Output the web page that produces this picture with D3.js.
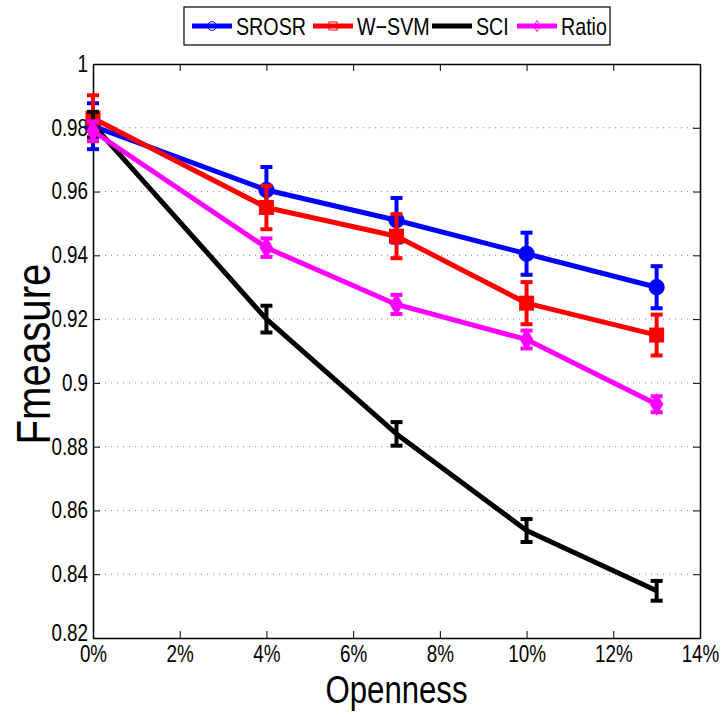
<!DOCTYPE html>
<html>
<head>
<meta charset="utf-8">
<script src="https://cdn.jsdelivr.net/npm/d3@7"></script>
<style>
  body { margin: 0; background: #fff; }
  text { font-family: "Liberation Sans", Arial, sans-serif; }
</style>
</head>
<body>
<div id="vis"></div>
<script>
//data
var openness = [0, 4, 7, 10, 13];
var srosr     = [0.9805, 0.9605, 0.951, 0.9405, 0.930];
var srosrErr  = [0.0072, 0.0072, 0.007, 0.0066, 0.0066];
var wsvm      = [0.983, 0.955, 0.946, 0.925, 0.915];
var wsvmErr   = [0.0072, 0.0068, 0.0069, 0.0066, 0.0064];
var sci       = [0.981, 0.920, 0.884, 0.8537, 0.8348];
var sciErr    = [0.004, 0.0042, 0.0037, 0.0036, 0.0031];
var ratio     = [0.979, 0.9424, 0.9246, 0.9136, 0.8933];
var ratioErr  = [0.003, 0.0029, 0.003, 0.0028, 0.0025];
var xTicks = [0, 2, 4, 6, 8, 10, 12, 14];
var yTicks = [0.82, 0.84, 0.86, 0.88, 0.9, 0.92, 0.94, 0.96, 0.98, 1];

var series = [
  {name: "SROSR", vals: srosr, err: srosrErr, color: "#0000ff", marker: "circle"},
  {name: "W\u2212SVM", vals: wsvm, err: wsvmErr, color: "#ff0000", marker: "square"},
  {name: "SCI", vals: sci, err: sciErr, color: "#000000", marker: "none"},
  {name: "Ratio", vals: ratio, err: ratioErr, color: "#ff00ff", marker: "diamond"}
];

//text in the original is horizontally squeezed
var sx = 0.82;

//set margins, width, and height
var margin = {top: 64, right: 22, bottom: 79, left: 93},
  width = 722 - margin.left - margin.right,
  height = 717 - margin.top - margin.bottom;

var x = d3.scaleLinear().domain([0, 14]).range([0, width]);
var y = d3.scaleLinear().domain([0.82, 1]).range([height, 0]);

var svg = d3.select("#vis").append("svg")
  .attr("width", 722)
  .attr("height", 717);

var g = svg.append("g")
  .attr("transform", "translate(" + margin.left + "," + margin.top + ")");

//grid lines (horizontal, dotted)
g.selectAll(".grid")
  .data(yTicks.slice(1, -1))
  .enter().append("line")
    .attr("x1", 0).attr("x2", width)
    .attr("y1", function(d) { return y(d); })
    .attr("y2", function(d) { return y(d); })
    .attr("stroke", "#888")
    .attr("stroke-width", 1)
    .attr("stroke-dasharray", "1,5");

//axes
var fmtPct = function(d) { return d + "%"; };
var xAxis = g.append("g")
  .attr("transform", "translate(0," + height + ")")
  .call(d3.axisBottom(x).tickValues(xTicks).tickFormat(fmtPct).tickSizeInner(-7).tickSizeOuter(0).tickPadding(11));
var xTop = g.append("g")
  .call(d3.axisTop(x).tickValues(xTicks).tickFormat("").tickSizeInner(-7).tickSizeOuter(0));
var yAxis = g.append("g")
  .call(d3.axisLeft(y).tickValues(yTicks).tickFormat(d3.format("")).tickSizeInner(-7).tickSizeOuter(0).tickPadding(6));
var yRight = g.append("g")
  .attr("transform", "translate(" + width + ",0)")
  .call(d3.axisRight(y).tickValues(yTicks).tickFormat("").tickSizeInner(-7).tickSizeOuter(0));

[xAxis, xTop, yAxis, yRight].forEach(function(a) {
  a.select(".domain").attr("stroke", "#000").attr("stroke-width", 1.5);
  a.selectAll(".tick line").attr("stroke", "#000").attr("stroke-width", 1);
  a.selectAll("text").attr("font-size", 23).attr("fill", "#000")
    .attr("font-family", "'Liberation Sans', Arial, sans-serif")
    .attr("transform", "scale(" + sx + ",1)");
});
xAxis.selectAll("text").attr("dy", "0.55em");
//nudge the lowest y label up so it clears the 0% label
yAxis.selectAll(".tick text").filter(function(d) { return d == 0.82; }).attr("dy", "0.12em");

//axis labels
g.append("text")
  .attr("transform", "translate(" + (width / 2) + "," + (height + 65) + ") scale(" + sx + ",1)")
  .attr("text-anchor", "middle")
  .attr("font-size", 38)
  .text("Openness");

g.append("text")
  .attr("transform", "translate(" + (-43) + "," + (height / 2 + 3) + ") rotate(-90) scale(" + sx + ",1)")
  .attr("text-anchor", "middle")
  .attr("font-size", 49)
  .text("Fmeasure");

//lines
var line = d3.line()
  .x(function(d, i) { return x(openness[i]); })
  .y(function(d) { return y(d); });

function drawMarker(sel, type, color, size, filled) {
  if (type == "circle") {
    sel.append("circle").attr("r", size * 0.55)
      .attr("fill", filled ? color : "none").attr("stroke", color).attr("stroke-width", filled ? 3 : 1);
  } else if (type == "square") {
    sel.append("rect").attr("x", -size * 0.5).attr("y", -size * 0.5)
      .attr("width", size).attr("height", size)
      .attr("fill", filled ? color : "none").attr("stroke", color).attr("stroke-width", filled ? 3 : 1);
  } else if (type == "diamond") {
    var s = size * 0.7;
    sel.append("path").attr("d", "M0," + (-s) + "L" + s * 0.6 + ",0L0," + s + "L" + (-s * 0.6) + ",0Z")
      .attr("fill", filled ? color : "none").attr("stroke", color).attr("stroke-width", filled ? 3 : 1);
  }
}

series.forEach(function(s) {
  var sg = g.append("g");
  //error bars
  s.vals.forEach(function(v, i) {
    var cx = x(openness[i]);
    var y1 = y(v + s.err[i]), y2 = y(v - s.err[i]);
    sg.append("line").attr("x1", cx).attr("x2", cx).attr("y1", y1).attr("y2", y2)
      .attr("stroke", s.color).attr("stroke-width", 4);
    [y1, y2].forEach(function(yy) {
      sg.append("line").attr("x1", cx - 6).attr("x2", cx + 6).attr("y1", yy).attr("y2", yy)
        .attr("stroke", s.color).attr("stroke-width", 4);
    });
  });
  sg.append("path")
    .datum(s.vals)
    .attr("fill", "none")
    .attr("stroke", s.color)
    .attr("stroke-width", 5)
    .attr("stroke-linejoin", "round")
    .attr("d", line);
  s.vals.forEach(function(v, i) {
    var m = sg.append("g").attr("transform", "translate(" + x(openness[i]) + "," + y(v) + ")");
    drawMarker(m, s.marker, s.color, 12, true);
  });
});

//legend
var lg = svg.append("g").attr("transform", "translate(184,7)");
lg.append("rect").attr("width", 426).attr("height", 38)
  .attr("fill", "#fff").attr("stroke", "#000").attr("stroke-width", 1.2);

var legendX = [8, 129, 248, 333];
series.forEach(function(s, i) {
  var e = lg.append("g").attr("transform", "translate(" + legendX[i] + ",19)");
  e.append("line").attr("x1", 0).attr("x2", 40).attr("y1", 0).attr("y2", 0)
    .attr("stroke", s.color).attr("stroke-width", 5);
  var m = e.append("g").attr("transform", "translate(20,0)");
  drawMarker(m, s.marker, s.color, 8, false);
  e.append("text")
    .attr("transform", "translate(44,9) scale(" + sx + ",1)")
    .attr("font-size", 24)
    .text(s.name);
});
</script>
</body>
</html>
